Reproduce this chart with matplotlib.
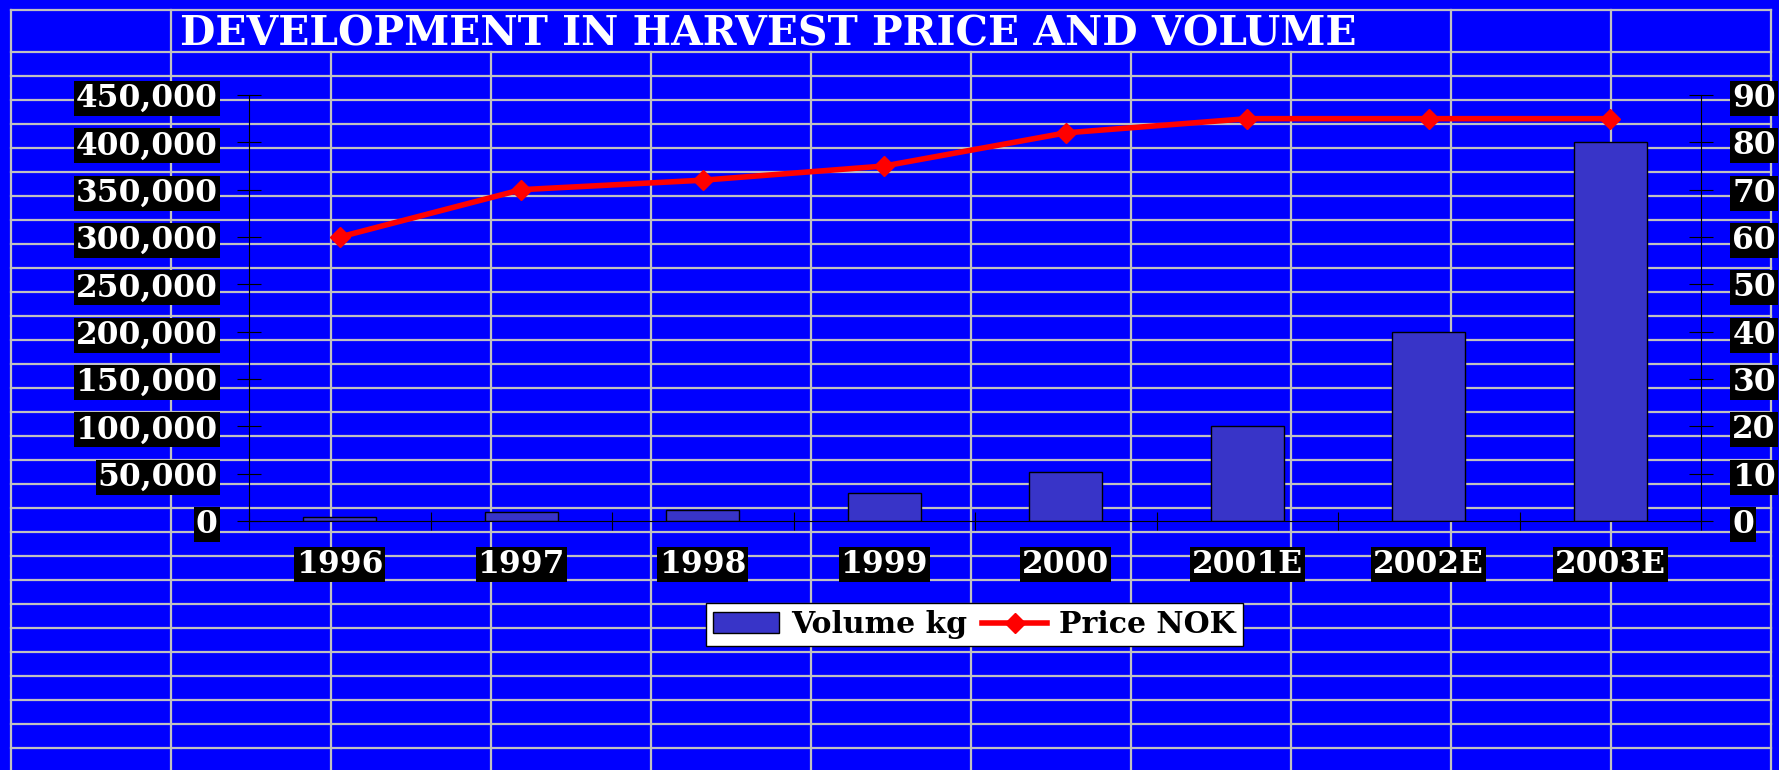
import matplotlib
matplotlib.use('Agg')
import matplotlib.pyplot as plt
from matplotlib.ticker import FuncFormatter
import numpy as np

years = ['1996', '1997', '1998', '1999', '2000', '2001E', '2002E', '2003E']
volume_kg = [4000, 10000, 12000, 30000, 52000, 100000, 200000, 400000]
price_nok = [60, 70, 72, 75, 82, 85, 85, 85]

W, H = 1779, 770
BLUE = '#0000FF'
GRID = '#C0C0C0'
BAR = '#3834C8'
LABEL_SIZE = 22.5

plt.rcParams['font.family'] = 'DejaVu Serif'
plt.rcParams['font.weight'] = 'bold'

fig = plt.figure(figsize=(W / 100, H / 100), dpi=100, facecolor=BLUE)


def px(x0, y0, x1, y1):
    # pixel box measured from the top-left corner -> figure fraction rect
    return [x0 / W, 1 - y1 / H, (x1 - x0) / W, (y1 - y0) / H]


# spreadsheet cell grid behind the chart
bg = fig.add_axes([0, 0, 1, 1], zorder=0)
bg.set_xlim(0, W)
bg.set_ylim(H, 0)
bg.axis('off')
glw = 1.6
bg.plot([11, 1771], [10, 10], color=GRID, lw=glw)
for gx in (11, 171, 1451, 1611, 1771):
    bg.plot([gx, gx], [10, H], color=GRID, lw=glw)
for gx in range(331, 1451, 160):
    bg.plot([gx, gx], [52, H], color=GRID, lw=glw)
for gy in range(52, H, 24):
    bg.plot([11, 1771], [gy, gy], color=GRID, lw=glw)

fig.text(180 / W, 1 - 46 / H, 'DEVELOPMENT IN HARVEST PRICE AND VOLUME',
         color='white', fontsize=29.3, fontweight='bold', ha='left', va='baseline')

# volume bars
ax = fig.add_axes(px(249, 95, 1701, 521), zorder=1)
ax.patch.set_visible(False)
x = np.arange(len(years))
ax.bar(x, volume_kg, width=0.4, color=BAR, edgecolor='black', linewidth=1,
       label='Volume kg', zorder=2)
ax.set_xlim(-0.5, len(years) - 0.5)
ax.set_ylim(0, 450000)
ax.set_yticks(np.arange(0, 450001, 50000))
ax.yaxis.set_major_formatter(FuncFormatter(lambda v, p: f'{int(v):,}'))
ax.set_xticks(np.arange(-0.5, len(years)), labels=[''] * (len(years) + 1))
ax.set_xticks(x, labels=years, minor=True)
ax.tick_params(axis='x', which='major', direction='inout', length=12.5, width=0.8, color='black')
ax.tick_params(axis='x', which='minor', length=0, pad=20.0,
               labelsize=LABEL_SIZE, labelcolor='white')
ax.tick_params(axis='y', direction='inout', length=17.3, width=0.8, pad=13.9,
               labelsize=LABEL_SIZE, labelcolor='white', color='black')
for s in ('top', 'right'):
    ax.spines[s].set_visible(False)
for s in ('left', 'bottom'):
    ax.spines[s].set_color('black')
    ax.spines[s].set_linewidth(0.8)

# price line on the right axis
ax2 = ax.twinx()
ax2.patch.set_visible(False)
ax2.plot(x, price_nok, color='#FF0000', lw=4, marker='D', ms=10.5,
         label='Price NOK', zorder=3)
ax2.set_ylim(0, 90)
ax2.set_yticks(range(0, 91, 10))
ax2.tick_params(axis='y', direction='inout', length=17.3, width=0.8, pad=13.9,
                labelsize=LABEL_SIZE, labelcolor='white', color='black')
for s in ('top', 'left', 'bottom'):
    ax2.spines[s].set_visible(False)
ax2.spines['right'].set_color('black')
ax2.spines['right'].set_linewidth(0.8)

box = dict(facecolor='black', edgecolor='none', boxstyle='square,pad=0.06')
for lbl in ax.get_yticklabels() + ax2.get_yticklabels() + ax.get_xticklabels(minor=True):
    lbl.set_bbox(box)

h1, l1 = ax.get_legend_handles_labels()
h2, l2 = ax2.get_legend_handles_labels()
leg = fig.legend(h1 + h2, l1 + l2, loc='center',
                 bbox_to_anchor=(974.5 / W, 1 - 624.5 / H), ncol=2,
                 frameon=True, fancybox=False, framealpha=1, edgecolor='black',
                 facecolor='white', fontsize=21.5, handlelength=2.2, handleheight=0.7,
                 handletextpad=0.4, columnspacing=0.5, borderpad=0.25, borderaxespad=0)
leg.get_frame().set_linewidth(1)

fig.savefig('out.png', dpi=100, facecolor=BLUE)
